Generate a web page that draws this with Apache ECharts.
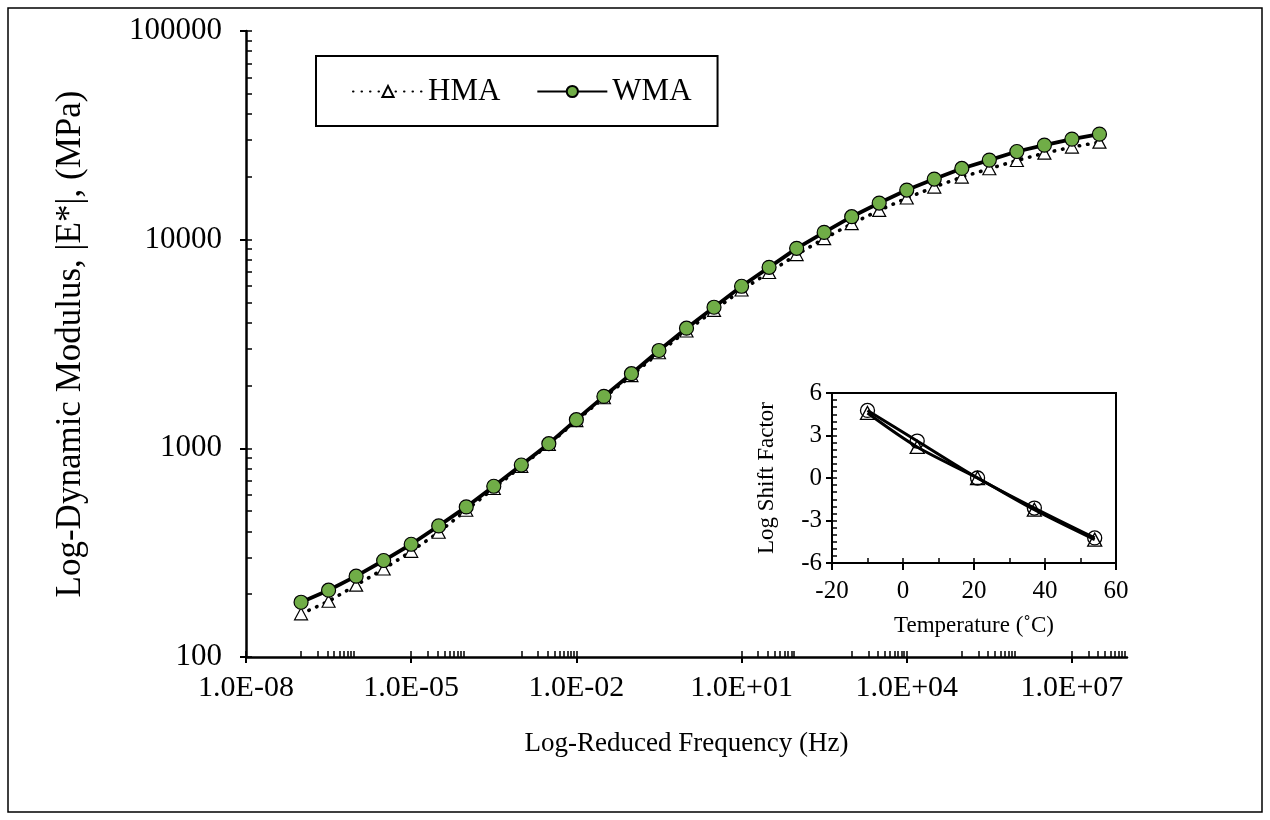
<!DOCTYPE html>
<html><head><meta charset="utf-8">
<script src="https://cdn.jsdelivr.net/npm/echarts@6/dist/echarts.min.js"></script>
<style>html,body{margin:0;padding:0;background:#fff}#c{width:1270px;height:820px}</style>
</head><body><div id="c"></div>
<script>
// Reduced frequency (Hz)
const freq = [1e-7, 3.16e-7, 1e-6, 3.16e-6, 1e-5, 3.16e-5, 1e-4, 3.16e-4, 1e-3, 3.16e-3,
  1e-2, 3.16e-2, 1e-1, 3.16e-1, 1, 3.16, 10, 31.6, 100, 316,
  1000, 3160, 1e4, 3.16e4, 1e5, 3.16e5, 1e6, 3.16e6, 1e7, 3.16e7];
// |E*| (MPa)
const hmaModulus = [161, 185, 221, 264, 321, 396, 505, 642, 820, 1043,
  1358, 1747, 2232, 2870, 3651, 4580, 5740, 6960, 8480, 10110,
  11930, 13810, 15830, 17870, 19950, 21870, 23960, 25980, 27770, 29340];
const wmaModulus = [183, 209, 244, 290, 347, 425, 524, 658, 832, 1053,
  1372, 1774, 2278, 2944, 3764, 4745, 5980, 7370, 9087, 10836,
  12882, 14983, 17290, 19516, 21938, 24060, 26454, 28380, 30329, 32040];
// Tick values
const xMajorTicks = [1e-8, 1e-5, 1e-2, 1e1, 1e4, 1e7];
const xMinorTicks = [1e-7, 2e-7, 3e-7, 4e-7, 5e-7, 6e-7, 7e-7, 8e-7, 9e-7,
  2e-5, 3e-5, 4e-5, 5e-5, 6e-5, 7e-5, 8e-5, 9e-5,
  1e-3, 2e-3, 3e-3, 4e-3, 5e-3, 6e-3, 7e-3, 8e-3, 9e-3,
  20, 30, 40, 50, 60, 70, 80, 90,
  1000, 2000, 3000, 4000, 5000, 6000, 7000, 8000, 9000,
  1e5, 2e5, 3e5, 4e5, 5e5, 6e5, 7e5, 8e5, 9e5,
  2e7, 3e7, 4e7, 5e7, 6e7, 7e7, 8e7, 9e7];
const yMajorTicks = [100, 1000, 10000, 100000];
const yMinorTicks = [200, 300, 400, 500, 600, 700, 800, 900,
  2000, 3000, 4000, 5000, 6000, 7000, 8000, 9000,
  20000, 30000, 40000, 50000, 60000, 70000, 80000, 90000];
// Inset: shift factors
const temps = [-10, 4, 21, 37, 54];
const hmaShift = [4.59, 2.19, 0, -2.24, -4.35];
const wmaShift = [4.77, 2.61, 0, -2.12, -4.23];
const insetXInside = [-20, -10, 0, 10, 20, 30, 40, 50, 60];
const insetYInside = [-6, -5.5, -5, -4.5, -4, -3.5, -3, -2.5, -2, -1.5, -1, -0.5, 0, 0.5, 1, 1.5, 2, 2.5, 3, 3.5, 4, 4.5, 5, 5.5, 6];

const FONT = '"Liberation Serif", "Times New Roman", serif';
const chart = echarts.init(document.getElementById('c'), null, {renderer: 'canvas'});

function sci(v) {
  const e = Math.round(Math.log10(v));
  return '1.0E' + (e < 0 ? '-' : '+') + String(Math.abs(e)).padStart(2, '0');
}
const blackLine = {lineStyle: {color: '#000', width: 2.5}};

const option = {
  backgroundColor: '#fff',
  animation: false,
  graphic: [{
    type: 'rect', shape: {x: 8, y: 8, width: 1254, height: 804},
    style: {fill: 'none', stroke: '#000', lineWidth: 1.5}, silent: true, z: -1
  }],
  legend: {
    data: ['HMA', 'WMA'],
    left: 316, top: 56,
    padding: [20, 26, 19, 36],
    itemGap: 36, itemWidth: 70, itemHeight: 14,
    borderColor: '#000', borderWidth: 2,
    textStyle: {fontFamily: FONT, fontSize: 31, color: '#000'}
  },
  grid: [
    {left: 246, top: 31, width: 881, height: 626, containLabel: false},
    {left: 832, top: 393, width: 284, height: 170, show: true, borderColor: '#000', borderWidth: 2, backgroundColor: 'rgba(0,0,0,0)'}
  ],
  xAxis: [
    {
      type: 'log', logBase: 10, gridIndex: 0, min: 1e-8, max: 1e8, position: 'bottom',
      axisLine: blackLine,
      axisTick: {show: true, inside: false, length: 6, customValues: xMajorTicks, lineStyle: {color: '#000', width: 2}},
      axisLabel: {customValues: xMajorTicks, formatter: sci, fontFamily: FONT, fontSize: 30, color: '#000', margin: 16},
      splitLine: {show: false}, minorTick: {show: false},
      name: 'Log-Reduced Frequency (Hz)', nameLocation: 'middle', nameGap: 73,
      nameTextStyle: {fontFamily: FONT, fontSize: 27, color: '#000'}
    },
    {
      type: 'log', logBase: 10, gridIndex: 0, min: 1e-8, max: 1e8, position: 'bottom',
      axisLine: {show: false},
      axisTick: {show: true, inside: true, length: 6, customValues: xMajorTicks.concat(xMinorTicks), lineStyle: {color: '#000', width: 1.5}},
      axisLabel: {show: false}, splitLine: {show: false}
    },
    {
      type: 'value', gridIndex: 1, min: -20, max: 60, interval: 20, position: 'bottom',
      axisLine: {onZero: false, lineStyle: {color: '#000', width: 2}},
      axisTick: {show: true, inside: false, length: 7, lineStyle: {color: '#000', width: 2}},
      axisLabel: {fontFamily: FONT, fontSize: 25, color: '#000', margin: 16},
      splitLine: {show: false},
      name: 'Temperature (˚C)', nameLocation: 'middle', nameGap: 51,
      nameTextStyle: {fontFamily: FONT, fontSize: 23, color: '#000'}
    },
    {
      type: 'value', gridIndex: 1, min: -20, max: 60, position: 'bottom',
      axisLine: {show: false, onZero: false},
      axisTick: {show: true, inside: true, length: 5, customValues: insetXInside, lineStyle: {color: '#000', width: 1.5}},
      axisLabel: {show: false}, splitLine: {show: false}
    }
  ],
  yAxis: [
    {
      type: 'log', logBase: 10, gridIndex: 0, min: 100, max: 100000, position: 'left',
      axisLine: blackLine,
      axisTick: {show: true, inside: false, length: 6, customValues: yMajorTicks, lineStyle: {color: '#000', width: 2}},
      axisLabel: {customValues: yMajorTicks, formatter: v => String(Math.round(v)), fontFamily: FONT, fontSize: 31, color: '#000', margin: 24},
      splitLine: {show: false}, minorTick: {show: false},
      name: 'Log-Dynamic Modulus, |E*|, (MPa)', nameLocation: 'middle', nameGap: 158,
      nameTextStyle: {fontFamily: FONT, fontSize: 35, color: '#000'}
    },
    {
      type: 'log', logBase: 10, gridIndex: 0, min: 100, max: 100000, position: 'left',
      axisLine: {show: false},
      axisTick: {show: true, inside: true, length: 6, customValues: yMajorTicks.concat(yMinorTicks), lineStyle: {color: '#000', width: 1.5}},
      axisLabel: {show: false}, splitLine: {show: false}
    },
    {
      type: 'value', gridIndex: 1, min: -6, max: 6, interval: 3, position: 'left',
      axisLine: {onZero: false, lineStyle: {color: '#000', width: 2}},
      axisTick: {show: true, inside: false, length: 6, lineStyle: {color: '#000', width: 2}},
      axisLabel: {fontFamily: FONT, fontSize: 25, color: '#000', margin: 10},
      splitLine: {show: false},
      name: 'Log Shift Factor', nameLocation: 'middle', nameGap: 54,
      nameTextStyle: {fontFamily: FONT, fontSize: 23, color: '#000'}
    },
    {
      type: 'value', gridIndex: 1, min: -6, max: 6, position: 'left',
      axisLine: {show: false, onZero: false},
      axisTick: {show: true, inside: true, length: 5, customValues: insetYInside, lineStyle: {color: '#000', width: 1.5}},
      axisLabel: {show: false}, splitLine: {show: false}
    }
  ],
  series: [
    {
      name: 'HMA', type: 'line', xAxisIndex: 0, yAxisIndex: 0,
      data: freq.map((f, i) => [f, hmaModulus[i]]),
      symbol: 'triangle', symbolSize: [13, 12],
      itemStyle: {color: '#fff', borderColor: '#000', borderWidth: 1.2},
      lineStyle: {color: '#000', width: 3.6, type: [0.5, 8], cap: 'round'},
      z: 3
    },
    {
      name: 'WMA', type: 'line', xAxisIndex: 0, yAxisIndex: 0,
      data: freq.map((f, i) => [f, wmaModulus[i]]),
      symbol: 'circle', symbolSize: 14,
      itemStyle: {color: '#70AD47', borderColor: '#000', borderWidth: 1.2},
      lineStyle: {color: '#000', width: 3.8},
      z: 4
    },
    {
      name: 'HMA shift', type: 'line', xAxisIndex: 2, yAxisIndex: 2,
      data: temps.map((t, i) => [t, hmaShift[i]]), smooth: 0.3,
      symbol: 'triangle', symbolSize: [14, 13],
      itemStyle: {color: 'rgba(255,255,255,0)', borderColor: '#000', borderWidth: 1.3},
      lineStyle: {color: '#000', width: 3},
      z: 5
    },
    {
      name: 'WMA shift', type: 'line', xAxisIndex: 2, yAxisIndex: 2,
      data: temps.map((t, i) => [t, wmaShift[i]]), smooth: 0.3,
      symbol: 'circle', symbolSize: 14,
      itemStyle: {color: 'rgba(255,255,255,0)', borderColor: '#000', borderWidth: 1.3},
      lineStyle: {color: '#000', width: 3},
      z: 5
    }
  ]
};
chart.setOption(option);
</script>
</body></html>
